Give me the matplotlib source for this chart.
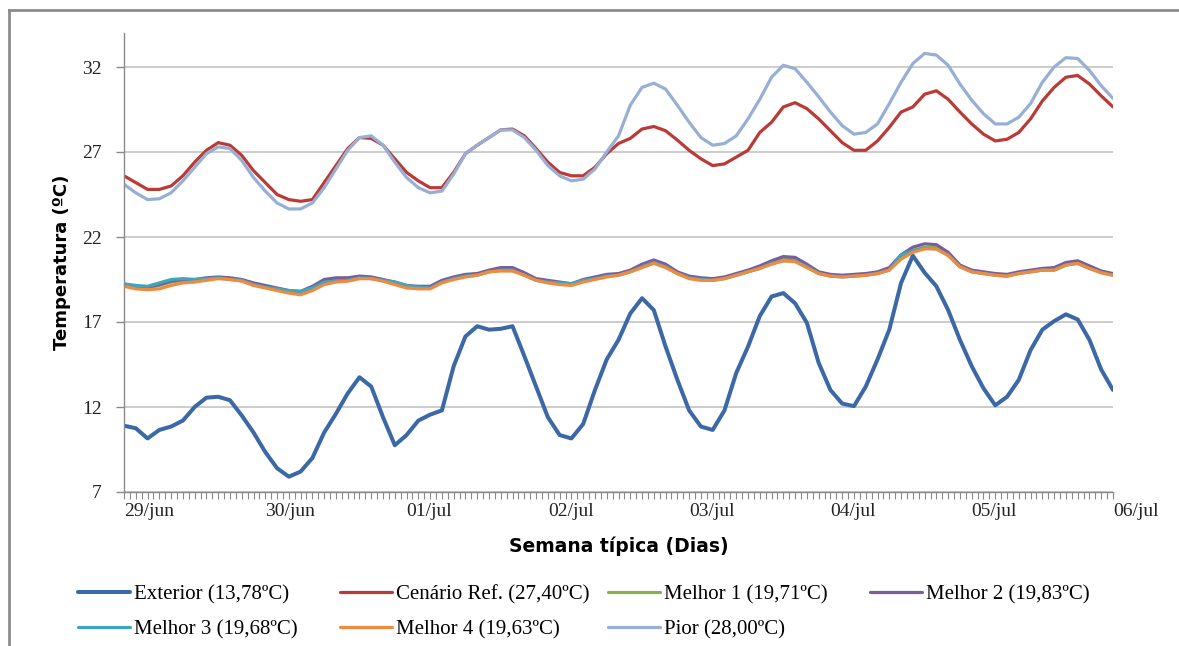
import numpy as np
import matplotlib
matplotlib.use("Agg")
import matplotlib.pyplot as plt
from matplotlib.lines import Line2D

# hours since 29/jun 00:00, one reading every 2 h
horas = np.arange(0, 169, 2)
dias = ["29/jun", "30/jun", "01/jul", "02/jul", "03/jul", "04/jul", "05/jul", "06/jul"]

exterior = [10.9, 10.75, 10.15, 10.65, 10.85, 11.2, 12.0, 12.55, 12.6, 12.4, 11.5, 10.5,
            9.35, 8.4, 7.9, 8.2, 9.0, 10.5, 11.6, 12.8, 13.75, 13.2, 11.4, 9.75,
            10.35, 11.2, 11.55, 11.8, 14.4, 16.15, 16.75, 16.55, 16.6, 16.75, 15.0, 13.2,
            11.4, 10.35, 10.15, 11.0, 13.0, 14.8, 15.95, 17.5, 18.4, 17.7, 15.55, 13.6,
            11.8, 10.85, 10.65, 11.8, 14.0, 15.55, 17.35, 18.5, 18.7, 18.1, 16.95, 14.6,
            13.0, 12.2, 12.05, 13.2, 14.8, 16.55, 19.3, 20.9, 19.9, 19.1, 17.7, 15.95,
            14.4, 13.1, 12.1, 12.6, 13.6, 15.35, 16.55, 17.05, 17.45, 17.15, 15.95, 14.2, 13.0]

cenario_ref = [25.6, 25.2, 24.8, 24.8, 25.0, 25.6, 26.4, 27.1, 27.55, 27.4, 26.8, 25.9,
               25.2, 24.5, 24.2, 24.1, 24.2, 25.2, 26.2, 27.2, 27.85, 27.8, 27.4, 26.6,
               25.8, 25.3, 24.9, 24.9, 25.8, 26.9, 27.4, 27.85, 28.3, 28.35, 27.95, 27.2,
               26.4, 25.8, 25.6, 25.6, 26.1, 26.9, 27.5, 27.8, 28.35, 28.5, 28.25, 27.7,
               27.1, 26.6, 26.2, 26.3, 26.7, 27.1, 28.15, 28.75, 29.65, 29.9, 29.55, 28.95,
               28.25, 27.55, 27.1, 27.1, 27.65, 28.45, 29.35, 29.65, 30.4, 30.6, 30.1, 29.35,
               28.65, 28.05, 27.65, 27.75, 28.15, 28.95, 30.0, 30.8, 31.4, 31.5, 31.0, 30.3, 29.65]

melhor_1 = [19.2, 19.1, 19.0, 19.15, 19.35, 19.45, 19.45, 19.55, 19.6, 19.55, 19.45, 19.2,
            19.1, 18.95, 18.8, 18.75, 19.0, 19.4, 19.45, 19.5, 19.65, 19.6, 19.45, 19.3,
            19.1, 19.05, 19.05, 19.4, 19.6, 19.75, 19.8, 20.0, 20.1, 20.1, 19.8, 19.5,
            19.4, 19.3, 19.2, 19.45, 19.6, 19.75, 19.8, 20.0, 20.3, 20.55, 20.3, 19.9,
            19.65, 19.55, 19.5, 19.6, 19.8, 20.0, 20.2, 20.5, 20.7, 20.65, 20.3, 19.9,
            19.75, 19.7, 19.75, 19.8, 19.9, 20.1, 20.8, 21.2, 21.4, 21.4, 21.0, 20.3,
            20.0, 19.9, 19.8, 19.75, 19.9, 20.0, 20.1, 20.1, 20.4, 20.5, 20.2, 19.95, 19.8]

melhor_2 = [19.2, 19.1, 19.05, 19.2, 19.4, 19.5, 19.5, 19.6, 19.65, 19.6, 19.5, 19.3,
            19.15, 19.0, 18.85, 18.8, 19.1, 19.5, 19.6, 19.6, 19.7, 19.65, 19.5, 19.35,
            19.15, 19.1, 19.1, 19.45, 19.65, 19.8, 19.85, 20.05, 20.2, 20.2, 19.9, 19.55,
            19.45, 19.35, 19.25, 19.5, 19.65, 19.8, 19.85, 20.05, 20.4, 20.65, 20.4, 19.95,
            19.7, 19.6, 19.55, 19.65, 19.85, 20.05, 20.3, 20.6, 20.85, 20.8, 20.4, 19.95,
            19.8, 19.75, 19.8, 19.85, 19.95, 20.2, 20.95, 21.4, 21.6, 21.55, 21.1, 20.35,
            20.05, 19.95, 19.85, 19.8, 19.95, 20.05, 20.15, 20.2, 20.5, 20.6, 20.3, 20.0, 19.85]

melhor_3 = [19.25, 19.15, 19.1, 19.3, 19.5, 19.55, 19.5, 19.55, 19.6, 19.5, 19.45, 19.2,
            19.05, 18.95, 18.85, 18.8, 19.0, 19.35, 19.4, 19.45, 19.6, 19.55, 19.45, 19.35,
            19.15, 19.05, 19.0, 19.35, 19.55, 19.7, 19.75, 19.95, 20.05, 20.05, 19.75, 19.45,
            19.35, 19.3, 19.25, 19.45, 19.55, 19.7, 19.75, 19.95, 20.25, 20.5, 20.25, 19.85,
            19.6, 19.5, 19.45, 19.55, 19.75, 19.95, 20.15, 20.45, 20.6, 20.6, 20.25, 19.85,
            19.7, 19.65, 19.7, 19.75, 19.85, 20.05, 20.95, 21.2, 21.35, 21.3, 20.95, 20.25,
            19.95, 19.85, 19.75, 19.7, 19.85, 19.95, 20.05, 20.05, 20.35, 20.45, 20.15, 19.9, 19.75]

melhor_4 = [19.1, 18.95, 18.9, 18.95, 19.15, 19.3, 19.35, 19.45, 19.55, 19.5, 19.4, 19.15,
            19.0, 18.85, 18.7, 18.6, 18.85, 19.2, 19.35, 19.4, 19.55, 19.55, 19.4, 19.2,
            19.0, 18.95, 18.95, 19.3, 19.5, 19.65, 19.75, 19.95, 20.0, 20.0, 19.75, 19.45,
            19.3, 19.2, 19.15, 19.35, 19.5, 19.65, 19.75, 19.95, 20.2, 20.45, 20.2, 19.85,
            19.55, 19.45, 19.45, 19.55, 19.75, 19.95, 20.15, 20.4, 20.6, 20.55, 20.2, 19.85,
            19.7, 19.65, 19.7, 19.75, 19.85, 20.05, 20.7, 21.1, 21.3, 21.3, 20.9, 20.25,
            19.95, 19.85, 19.75, 19.7, 19.85, 19.95, 20.05, 20.05, 20.35, 20.45, 20.15, 19.9, 19.75]

pior = [25.1, 24.6, 24.2, 24.25, 24.6, 25.3, 26.1, 26.9, 27.3, 27.2, 26.5, 25.5,
        24.7, 24.0, 23.65, 23.65, 24.0, 24.9, 26.0, 27.1, 27.85, 27.95, 27.4, 26.4,
        25.5, 24.9, 24.6, 24.7, 25.7, 26.9, 27.4, 27.85, 28.3, 28.3, 27.85, 27.1,
        26.2, 25.6, 25.3, 25.4, 26.0, 27.0, 27.95, 29.75, 30.8, 31.05, 30.7, 29.75,
        28.75, 27.85, 27.4, 27.5, 27.95, 28.95, 30.1, 31.4, 32.1, 31.9, 31.1, 30.25,
        29.35, 28.55, 28.05, 28.15, 28.65, 29.85, 31.1, 32.2, 32.8, 32.7, 32.1, 31.0,
        30.05, 29.25, 28.65, 28.65, 29.05, 29.85, 31.1, 32.0, 32.55, 32.5, 31.8, 30.9, 30.15]

series = [
    ("Exterior (13,78ºC)", exterior, "#3C69A6", 2.9),
    ("Cenário Ref. (27,40ºC)", cenario_ref, "#BA3A36", 2.3),
    ("Melhor 1 (19,71ºC)", melhor_1, "#8DB04E", 2.3),
    ("Melhor 2 (19,83ºC)", melhor_2, "#7A5E9C", 2.3),
    ("Melhor 3 (19,68ºC)", melhor_3, "#3FA6BC", 2.3),
    ("Melhor 4 (19,63ºC)", melhor_4, "#EE8B3E", 2.3),
    ("Pior (28,00ºC)", pior, "#98AFD5", 2.3),
]

serif = "Liberation Serif"
cinza = "#8A8A8A"

fig = plt.figure(figsize=(11.79, 6.46), dpi=100)
ax = fig.add_axes([124 / 1179, 1 - 492 / 646, 989 / 1179, 459 / 646])

handles = []
for nome, valores, cor, lw in series:
    h, = ax.plot(horas, valores, color=cor, lw=lw, label=nome,
                 solid_joinstyle="round", solid_capstyle="round")
    handles.append(h)

ax.set_xlim(0, 168)
ax.set_ylim(7, 34)
ax.set_yticks([7, 12, 17, 22, 27, 32])
ax.set_xticks(np.arange(0, 169, 24))
ax.set_xticks(np.arange(0, 169, 1), minor=True)
ax.set_xticklabels(dias)
for lbl in ax.get_xticklabels():
    lbl.set_horizontalalignment("left")

ax.yaxis.grid(True, color="#C8C8C8", lw=1.3)
ax.set_axisbelow(True)
for s in ["top", "right"]:
    ax.spines[s].set_visible(False)
for s in ["left", "bottom"]:
    ax.spines[s].set_color(cinza)
    ax.spines[s].set_linewidth(1.0)

ax.tick_params(axis="y", length=6, width=1, color=cinza, pad=10, labelsize=14)
ax.tick_params(axis="x", which="both", length=5, width=0.8, color=cinza, pad=3, labelsize=14)
for lbl in ax.get_xticklabels() + ax.get_yticklabels():
    lbl.set_fontfamily(serif)
    lbl.set_color("#222222")

ax.set_xlabel("Semana típica (Dias)", fontsize=13.5, fontweight="bold",
              family="DejaVu Sans", labelpad=12)
ax.set_ylabel("Temperatura (ºC)", fontsize=13, fontweight="bold",
              family="DejaVu Sans", labelpad=8)

# legend laid out as fixed-width columns
colunas = [(78, [0, 4]), (340, [1, 5]), (608, [2, 6]), (870, [3])]
for x0, idx in colunas:
    fig.legend([handles[i] for i in idx], [series[i][0] for i in idx],
               loc="upper left", bbox_to_anchor=(x0 / 1179, 1 - 585 / 646),
               frameon=False, prop={"family": serif, "size": 15},
               handlelength=2.5, handletextpad=0.2, labelspacing=0.72,
               borderaxespad=0, borderpad=0)

# outer frame
fig.add_artist(Line2D([9 / 1179, 9 / 1179], [0, 1 - 10 / 646], color="#8C8C8C", lw=2))
fig.add_artist(Line2D([9 / 1179, 1], [1 - 10 / 646, 1 - 10 / 646], color="#8C8C8C", lw=2))

fig.savefig("out.png", dpi=100)
